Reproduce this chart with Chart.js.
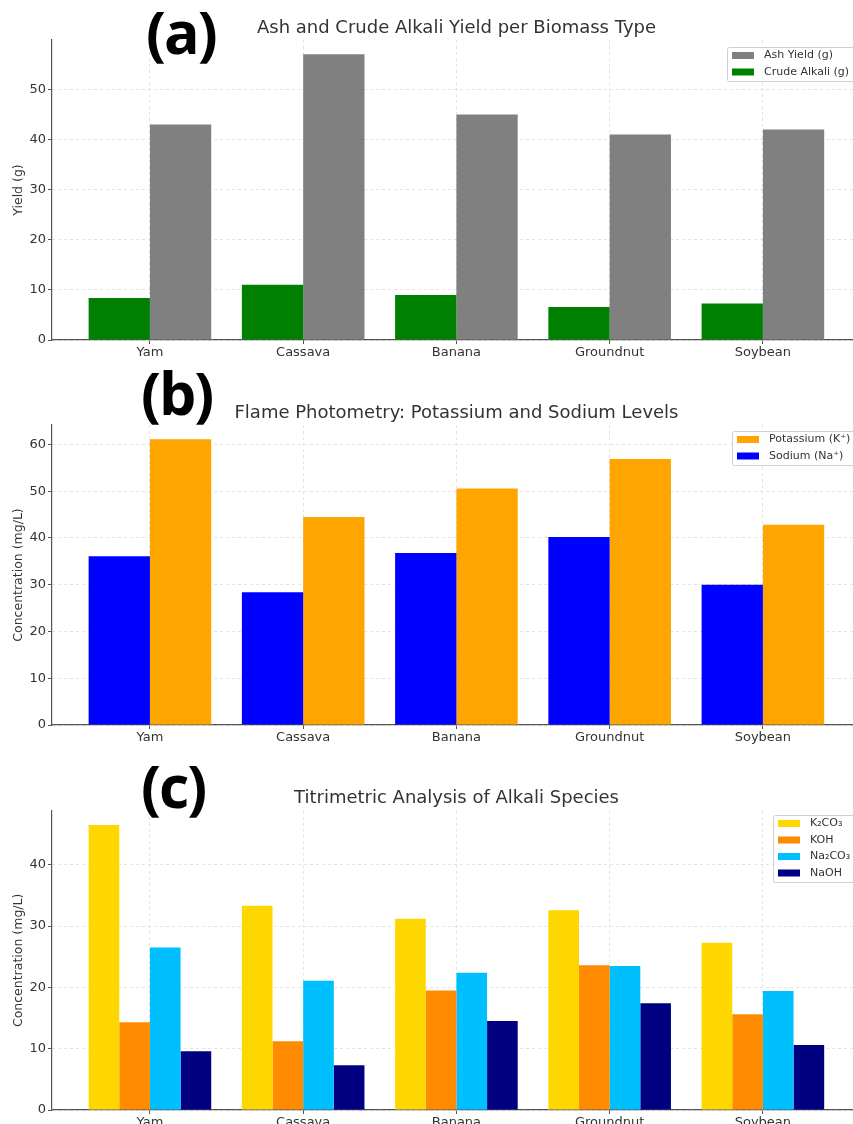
<!DOCTYPE html>
<html>
<head>
<meta charset="utf-8">
<script src="https://cdn.jsdelivr.net/npm/chart.js@4.4.1/dist/chart.umd.min.js"></script>
<style>
  html, body { margin: 0; padding: 0; background: #fff; overflow: hidden; }
  body { width: 853px; height: 1124px; position: relative; }
  canvas { position: absolute; left: 0; }
  .tag {
    position: absolute;
    font-family: "Open Sans", sans-serif;
    font-weight: 700;
    font-size: 59px;
    letter-spacing: -2px;
    line-height: 1;
    color: #000;
    z-index: 2;
  }
</style>
</head>
<body>
<canvas id="chartA" width="853" height="365" style="top:0"></canvas>
<canvas id="chartB" width="853" height="385" style="top:365px"></canvas>
<canvas id="chartC" width="853" height="374" style="top:750px"></canvas>
<div class="tag" style="left:146px;top:2px">(a)</div>
<div class="tag" style="left:141px;top:363px">(b)</div>
<div class="tag" style="left:141px;top:756px">(c)</div>

<script>
// --------------------------
// data
// --------------------------
const biomass = ["Yam", "Cassava", "Banana", "Groundnut", "Soybean"];

// (a) ash / crude alkali, g
const ashYield = [43, 57, 45, 41, 42];
const crudeAlkali = [8.4, 11, 9, 6.6, 7.3];
const ticksA = [0, 10, 20, 30, 40, 50];

// (b) flame photometry, mg/L
const potassium = [61.1, 44.5, 50.6, 56.9, 42.8];
const sodium = [36.1, 28.4, 36.8, 40.2, 30.0];
const ticksB = [0, 10, 20, 30, 40, 50, 60];

// (c) titration, mg/L
const k2co3 = [46.5, 33.3, 31.2, 32.6, 27.3];
const koh = [14.3, 11.2, 19.5, 23.6, 15.6];
const na2co3 = [26.5, 21.1, 22.4, 23.5, 19.4];
const naoh = [9.6, 7.3, 14.5, 17.4, 10.6];
const ticksC = [0, 10, 20, 30, 40];

Chart.defaults.font.family = '"DejaVu Sans", sans-serif';
Chart.defaults.color = "#333";

const AXIS_LEFT = 52;        // px, y axis position
const X_MIN = -0.639;        // matplotlib-like margins
const X_MAX = 4.588;         // right side is cropped off in the picture
const X_RIGHT_VIRTUAL = 861; // where the (cropped) right spine would be

// --------------------------
// plugins
// --------------------------
const panelTitlePlugin = {
  id: "panelTitle",
  afterDraw(chart, args, opts) {
    if (!opts.text) return;
    const ctx = chart.ctx;
    ctx.save();
    ctx.font = '18px "DejaVu Sans"';
    ctx.fillStyle = "#333";
    ctx.textAlign = "center";
    ctx.textBaseline = "middle";
    ctx.fillText(opts.text, (chart.chartArea.left + X_RIGHT_VIRTUAL) / 2, opts.y);
    ctx.restore();
  }
};

const boxLegendPlugin = {
  id: "boxLegend",
  afterDraw(chart, args, opts) {
    if (!opts.order) return;
    const ctx = chart.ctx;
    const sets = opts.order.map(i => chart.data.datasets[i]);
    ctx.save();
    ctx.font = '11px "DejaVu Sans"';
    const textW = Math.max(...sets.map(d => ctx.measureText(d.label).width));
    const x = opts.left;
    const y = chart.chartArea.top + opts.top;
    const w = 37 + textW + 6;
    const h = sets.length * 16.5 + 1;

    ctx.beginPath();
    ctx.roundRect(x + 0.5, y + 0.5, w, h, 2);
    ctx.fillStyle = "rgba(255,255,255,0.8)";
    ctx.fill();
    ctx.strokeStyle = "#d0d0d0";
    ctx.lineWidth = 1;
    ctx.stroke();

    ctx.textBaseline = "middle";
    sets.forEach((d, r) => {
      const cy = y + 8.5 + r * 16.5;
      ctx.fillStyle = d.backgroundColor;
      ctx.fillRect(x + 5, cy - 3.5, 22, 7);
      ctx.fillStyle = "#333";
      ctx.fillText(d.label, x + 37, cy);
    });
    ctx.restore();
  }
};

// --------------------------
// helpers
// --------------------------
function points(values) {
  return values.map((v, i) => ({ x: i, y: v }));
}

function makeDataset(label, values, color) {
  return {
    label,
    data: points(values),
    backgroundColor: color,
    borderWidth: 0,
    categoryPercentage: 0.8,
    barPercentage: 1.0
  };
}

function buildChart(canvasId, cfg) {
  const el = document.getElementById(canvasId);
  return new Chart(el.getContext("2d"), {
    type: "bar",
    data: { datasets: cfg.datasets },
    plugins: [panelTitlePlugin, boxLegendPlugin],
    options: {
      responsive: false,
      animation: false,
      devicePixelRatio: 1,
      layout: { padding: { top: cfg.areaTop, left: 0, right: 0, bottom: 0 } },
      plugins: {
        legend: { display: false },
        tooltip: { enabled: false },
        panelTitle: { text: cfg.title, y: cfg.titleY },
        boxLegend: cfg.legend
      },
      scales: {
        x: {
          type: "linear",
          min: X_MIN,
          max: X_MAX,
          offset: false,
          afterBuildTicks: axis => { axis.ticks = biomass.map((_, i) => ({ value: i })); },
          afterFit: axis => { axis.height = cfg.xHeight; },
          ticks: {
            autoSkip: false,
            maxRotation: 0,
            padding: 1,
            color: "#333",
            font: { size: 13 },
            callback: v => biomass[v]
          },
          grid: {
            offset: false,
            color: "#dcdcdc",
            lineWidth: 0.8,
            tickLength: 4,
            tickColor: "#555",
            tickWidth: 1
          },
          border: { color: "#555", width: 1.2, dash: [3, 3] }
        },
        y: {
          min: 0,
          max: cfg.yMax,
          afterBuildTicks: axis => { axis.ticks = cfg.yTicks.map(v => ({ value: v })); },
          afterFit: axis => { axis.width = AXIS_LEFT; },
          ticks: { padding: 2, color: "#333", font: { size: 13 } },
          title: {
            display: true,
            text: cfg.yTitle,
            color: "#333",
            font: { size: 12.5 },
            padding: { top: 11.5, bottom: 0 }
          },
          grid: {
            color: "#dcdcdc",
            lineWidth: 0.8,
            tickLength: 4,
            tickColor: "#555",
            tickWidth: 1
          },
          border: { color: "#555", width: 1.2, dash: [3, 3] }
        }
      }
    }
  });
}

// --------------------------
// charts
// --------------------------
buildChart("chartA", {
  title: "Ash and Crude Alkali Yield per Biomass Type",
  titleY: 28.5,
  areaTop: 40,
  xHeight: 25,
  yMax: Math.max(...ashYield) * 1.05,
  yTicks: ticksA,
  yTitle: "Yield (g)",
  datasets: [
    makeDataset("Crude Alkali (g)", crudeAlkali, "#008000"),
    makeDataset("Ash Yield (g)", ashYield, "#808080")
  ],
  legend: { order: [1, 0], left: 727, top: 7 }
});

buildChart("chartB", {
  title: "Flame Photometry: Potassium and Sodium Levels",
  titleY: 48.5,
  areaTop: 60,
  xHeight: 25,
  yMax: Math.max(...potassium) * 1.05,
  yTicks: ticksB,
  yTitle: "Concentration (mg/L)",
  datasets: [
    makeDataset("Sodium (Na⁺)", sodium, "#0000FF"),
    makeDataset("Potassium (K⁺)", potassium, "#FFA500")
  ],
  legend: { order: [1, 0], left: 732, top: 6 }
});

buildChart("chartC", {
  title: "Titrimetric Analysis of Alkali Species",
  titleY: 48.5,
  areaTop: 60.7,
  xHeight: 14,
  yMax: Math.max(...k2co3) * 1.05,
  yTicks: ticksC,
  yTitle: "Concentration (mg/L)",
  datasets: [
    makeDataset("K₂CO₃", k2co3, "#FFD700"),
    makeDataset("KOH", koh, "#FF8C00"),
    makeDataset("Na₂CO₃", na2co3, "#00BFFF"),
    makeDataset("NaOH", naoh, "#000080")
  ],
  legend: { order: [0, 1, 2, 3], left: 773, top: 4.3 }
});
</script>
</body>
</html>
